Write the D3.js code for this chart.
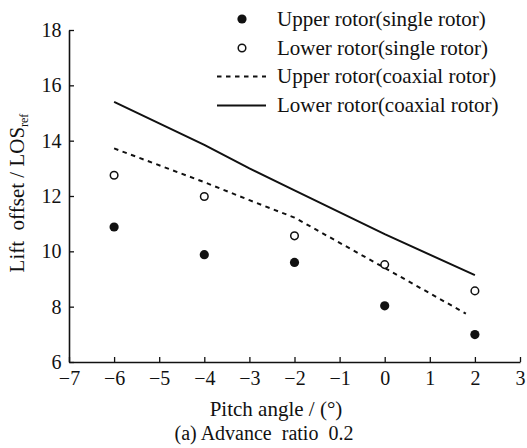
<!DOCTYPE html>
<html lang="en">
  <head>
    <meta charset="UTF-8" />
    <title>Lift offset vs pitch angle</title>
    <script src="https://d3js.org/d3.v7.min.js"></script>
    <style>
      body { margin: 0; background: #fff; }
      svg text { font-family: "Liberation Serif", "Times New Roman", serif; fill: #111; }
    </style>
  </head>
  <body>
    <div id="chart"></div>
    <script>
      // values
      const pitch = [-6, -4, -2, 0, 2];
      const upperSingle = [10.88, 9.88, 9.6, 8.03, 6.99];
      const lowerSingle = [12.75, 11.98, 10.56, 9.52, 8.57];

      const upperCoaxPitch = [-6, -4, -3, -2, 0, 1.8];
      const upperCoax = [13.72, 12.5, 11.85, 11.22, 9.4, 7.75];
      const lowerCoaxPitch = [-6, -4, -3, -2, 0, 2];
      const lowerCoax = [15.4, 13.85, 13.0, 12.2, 10.62, 9.14];

      const xTicks = [-7, -6, -5, -4, -3, -2, -1, 0, 1, 2, 3];
      const yTicks = [6, 8, 10, 12, 14, 16, 18];

      const legendLabels = [
        "Upper rotor(single rotor)",
        "Lower rotor(single rotor)",
        "Upper rotor(coaxial rotor)",
        "Lower rotor(coaxial rotor)",
      ];

      const width = 527, height = 448;
      const svg = d3.select("#chart").append("svg")
        .attr("width", width).attr("height", height)
        .attr("font-family", "Liberation Serif, serif");

      const x = d3.scaleLinear().domain([-7, 3]).range([69, 520]);
      const y = d3.scaleLinear().domain([6, 18]).range([362, 30]);

      // axes, ticks pointing inward
      const xAxis = svg.append("g")
        .attr("transform", `translate(0,${y(6)})`)
        .call(d3.axisBottom(x).tickValues(xTicks).tickSizeInner(-5).tickSizeOuter(0)
          .tickPadding(9).tickFormat(d => d < 0 ? "\u2212" + Math.abs(d) : d));
      const yAxis = svg.append("g")
        .attr("transform", `translate(${x(-7)},0)`)
        .call(d3.axisLeft(y).tickValues(yTicks).tickSizeInner(-5).tickSizeOuter(0)
          .tickPadding(7.5));

      svg.selectAll("g").attr("font-family", null).attr("font-size", null);
      svg.selectAll(".domain").attr("stroke", "#111").attr("stroke-width", 1.6);
      svg.selectAll(".tick line").attr("stroke", "#111").attr("stroke-width", 1.3);
      svg.selectAll(".tick text")
        .style("font-size", "20px").attr("fill", "#111");
      yAxis.selectAll(".tick text").attr("dy", "0.33em");

      const line = d3.line().x(d => x(d[0])).y(d => y(d[1]));

      svg.append("path")
        .datum(lowerCoaxPitch.map((p, i) => [p, lowerCoax[i]]))
        .attr("d", line).attr("fill", "none")
        .attr("stroke", "#111").attr("stroke-width", 2);

      svg.append("path")
        .datum(upperCoaxPitch.map((p, i) => [p, upperCoax[i]]))
        .attr("d", line).attr("fill", "none")
        .attr("stroke", "#111").attr("stroke-width", 2)
        .attr("stroke-dasharray", "4.5,4.5");

      svg.selectAll(".upper-single")
        .data(pitch.map((p, i) => [p, upperSingle[i]]))
        .enter().append("circle")
        .attr("cx", d => x(d[0])).attr("cy", d => y(d[1]))
        .attr("r", 4.6).attr("fill", "#111");

      svg.selectAll(".lower-single")
        .data(pitch.map((p, i) => [p, lowerSingle[i]]))
        .enter().append("circle")
        .attr("cx", d => x(d[0])).attr("cy", d => y(d[1]))
        .attr("r", 3.8).attr("fill", "#fff")
        .attr("stroke", "#111").attr("stroke-width", 1.5);

      // legend
      const legend = svg.append("g");
      const rowY = [19, 48, 76.5, 105.5];
      legend.append("circle").attr("cx", 242).attr("cy", rowY[0]).attr("r", 4.6).attr("fill", "#111");
      legend.append("circle").attr("cx", 242).attr("cy", rowY[1]).attr("r", 3.8)
        .attr("fill", "#fff").attr("stroke", "#111").attr("stroke-width", 1.5);
      legend.append("line").attr("x1", 217).attr("x2", 266).attr("y1", rowY[2]).attr("y2", rowY[2])
        .attr("stroke", "#111").attr("stroke-width", 2).attr("stroke-dasharray", "4.5,4.5");
      legend.append("line").attr("x1", 217).attr("x2", 266).attr("y1", rowY[3]).attr("y2", rowY[3])
        .attr("stroke", "#111").attr("stroke-width", 2);
      legend.selectAll(".lab").data(legendLabels).enter().append("text")
        .attr("x", 277).attr("y", (d, i) => rowY[i]).attr("dy", "0.33em")
        .style("font-size", "21px").text(d => d);

      // axis titles
      svg.append("text").attr("x", 276).attr("y", 416)
        .attr("text-anchor", "middle").style("font-size", "21px")
        .text("Pitch angle / (\u00b0)");
      svg.append("text").attr("x", 264).attr("y", 440)
        .attr("text-anchor", "middle").style("font-size", "20px")
        .style("white-space", "pre").attr("xml:space", "preserve")
        .text("(a) Advance  ratio  0.2");

      const yt = svg.append("text")
        .attr("transform", "translate(24,193) rotate(-90)")
        .attr("text-anchor", "middle").style("font-size", "21px")
        .attr("xml:space", "preserve").style("white-space", "pre");
      yt.append("tspan").text("Lift  offset / LOS");
      yt.append("tspan").attr("dy", 4).style("font-size", "12px").text("ref");
    </script>
  </body>
</html>
